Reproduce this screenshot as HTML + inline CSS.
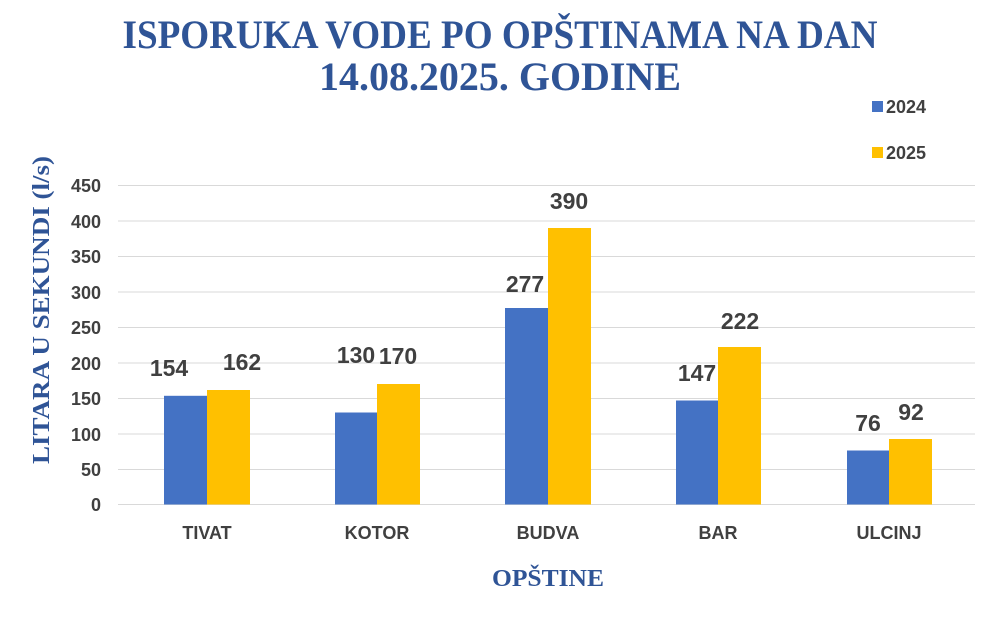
<!DOCTYPE html>
<html><head><meta charset="utf-8"><style>body{margin:0;background:#fff}</style></head><body>
<svg width="1000" height="626" viewBox="0 0 1000 626" xmlns="http://www.w3.org/2000/svg">
<rect width="1000" height="626" fill="#fff"/>
<g font-family="Liberation Serif, serif" font-weight="bold" fill="#2f5496" text-anchor="middle">
<text x="500" y="48" font-size="40" textLength="755" lengthAdjust="spacingAndGlyphs">ISPORUKA VODE PO OPŠTINAMA NA DAN</text>
<text x="500" y="90" font-size="40" textLength="362" lengthAdjust="spacingAndGlyphs">14.08.2025. GODINE</text>
<text x="548" y="586" font-size="24" textLength="112" lengthAdjust="spacingAndGlyphs">OPŠTINE</text>
<text transform="translate(49,310) rotate(-90)" font-size="24" textLength="308" lengthAdjust="spacingAndGlyphs">LITARA U SEKUNDI (l/s)</text>
</g>
<g stroke="#d9d9d9" stroke-width="1">
<line x1="118" x2="975" y1="185.5" y2="185.5"/><line x1="118" x2="975" y1="221" y2="221"/>
<line x1="118" x2="975" y1="256.5" y2="256.5"/><line x1="118" x2="975" y1="292" y2="292"/>
<line x1="118" x2="975" y1="327.5" y2="327.5"/><line x1="118" x2="975" y1="363" y2="363"/>
<line x1="118" x2="975" y1="398.5" y2="398.5"/><line x1="118" x2="975" y1="434" y2="434"/>
<line x1="118" x2="975" y1="469.5" y2="469.5"/><line x1="118" x2="975" y1="504.5" y2="504.5"/>
</g>
<g font-family="Liberation Sans, sans-serif" font-weight="bold" fill="#404040" font-size="18" text-anchor="end">
<text x="101" y="192">450</text><text x="101" y="228">400</text><text x="101" y="263">350</text>
<text x="101" y="299">300</text><text x="101" y="334">250</text><text x="101" y="370">200</text>
<text x="101" y="405">150</text><text x="101" y="441">100</text><text x="101" y="476">50</text>
<text x="101" y="511">0</text>
</g>
<g>
<rect x="164" y="395.8" width="43" height="108.7" fill="#4472c4"/><rect x="207" y="390" width="43" height="114.5" fill="#ffc000"/>
<rect x="335" y="412.5" width="42" height="92" fill="#4472c4"/><rect x="377" y="384" width="43" height="120.5" fill="#ffc000"/>
<rect x="505" y="308" width="43" height="196.5" fill="#4472c4"/><rect x="548" y="228" width="43" height="276.5" fill="#ffc000"/>
<rect x="676" y="400.5" width="42" height="104" fill="#4472c4"/><rect x="718" y="347" width="43" height="157.5" fill="#ffc000"/>
<rect x="847" y="450.5" width="42" height="54" fill="#4472c4"/><rect x="889" y="439" width="43" height="65.5" fill="#ffc000"/>
</g>
<g font-family="Liberation Sans, sans-serif" font-weight="bold" fill="#404040" font-size="23" text-anchor="middle">
<text x="169" y="376">154</text><text x="242" y="370">162</text>
<text x="356" y="363">130</text><text x="398" y="364">170</text>
<text x="525" y="292">277</text><text x="569" y="209">390</text>
<text x="697" y="381">147</text><text x="740" y="329">222</text>
<text x="868" y="431">76</text><text x="911" y="420">92</text>
</g>
<g font-family="Liberation Sans, sans-serif" font-weight="bold" fill="#404040" font-size="18" text-anchor="middle">
<text x="207" y="539">TIVAT</text><text x="377" y="539">KOTOR</text><text x="548" y="539">BUDVA</text>
<text x="718" y="539">BAR</text><text x="889" y="539">ULCINJ</text>
</g>
<rect x="872" y="101" width="11" height="11" fill="#4472c4"/>
<rect x="872" y="147" width="11" height="11" fill="#ffc000"/>
<g font-family="Liberation Sans, sans-serif" font-weight="bold" fill="#404040" font-size="18">
<text x="886" y="113">2024</text><text x="886" y="159">2025</text>
</g>
</svg>
</body></html>
